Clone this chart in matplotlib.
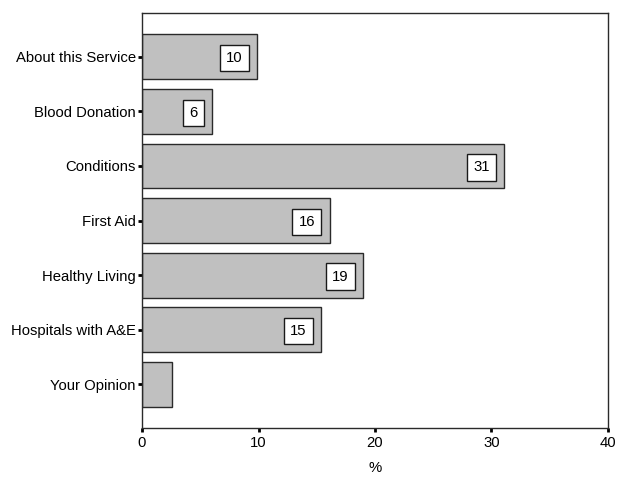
import matplotlib
matplotlib.use("Agg")
import matplotlib.pyplot as plt

plt.rcParams['font.family'] = ['Liberation Sans', 'DejaVu Sans']

categories = ["About this Service", "Blood Donation", "Conditions", "First Aid",
              "Healthy Living", "Hospitals with A&E", "Your Opinion"]
percent = [9.9, 6.0, 31.1, 16.1, 19.0, 15.4, 2.6]
xticks = [0, 10, 20, 30, 40]

FS = 10.7

fig = plt.figure(figsize=(6.18, 4.93), dpi=100)
ax = fig.add_axes([0.2298, 0.1318, 0.754, 0.8418])

ypos = list(range(len(categories)))
ax.barh(ypos, percent, height=0.82, color="#c0c0c0", edgecolor="#2a2a2a", linewidth=1.0)

# value boxes near the end of each bar (small bars left unlabelled)
for y, v in zip(ypos, percent):
    if v < 3:
        continue
    ax.annotate(f"{v:.0f}", xy=(v, y), xytext=(-10.5, 0), textcoords="offset points",
                ha="right", va="center_baseline", fontsize=FS, color="black",
                bbox=dict(boxstyle="square,pad=0.42", fc="white", ec="#1a1a1a", lw=1.0))

ax.set_xlim(0, 40)
ax.set_ylim(len(categories) - 0.2, -0.8)
ax.set_xticks(xticks)
ax.set_xticklabels([str(t) for t in xticks])
ax.set_yticks(ypos)
ax.set_yticklabels(categories)
ax.tick_params(axis="both", labelsize=FS, length=3, width=2, color="black", pad=1.5)
ax.tick_params(axis="x", pad=3)

for s in ax.spines.values():
    s.set_color("#2a2a2a")
    s.set_linewidth(1.0)

ax.set_xlabel("%", fontsize=FS, labelpad=8)

fig.savefig("out.png", dpi=100)
